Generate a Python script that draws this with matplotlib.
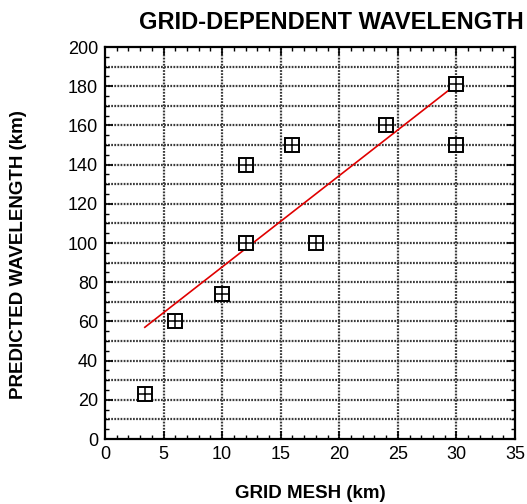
import matplotlib
matplotlib.use("Agg")
import matplotlib.pyplot as plt
from matplotlib.ticker import MultipleLocator

plt.rcParams["font.family"] = ["Liberation Sans", "DejaVu Sans"]

# Data
grid_mesh = [3.4, 6, 10, 12, 12, 16, 18, 24, 30, 30]
wavelength = [23, 60, 74, 100, 140, 150, 100, 160, 181, 150]

fit_x = [3.4, 30]
fit_y = [57, 181]

fig = plt.figure(figsize=(5.27, 5.04), dpi=100)
ax = fig.add_axes([105 / 527, 1 - 439 / 504, 410 / 527, 392 / 504])

ax.set_xlim(0, 35)
ax.set_ylim(0, 200)

ax.xaxis.set_major_locator(MultipleLocator(5))
ax.xaxis.set_minor_locator(MultipleLocator(1))
ax.yaxis.set_major_locator(MultipleLocator(20))
ax.yaxis.set_minor_locator(MultipleLocator(5))

# dotted grid: every 5 in x, every 10 in y
for gx in range(5, 35, 5):
    ax.axvline(gx, color="#3a3a3a", lw=1.6, ls=(0, (0.8, 0.6)), zorder=1)
for gy in range(10, 200, 10):
    ax.axhline(gy, color="#3a3a3a", lw=1.6, ls=(0, (0.8, 0.6)), zorder=1)

ax.tick_params(which="both", direction="in", top=True, right=True)
ax.tick_params(which="major", length=6, width=1.2, labelsize=13, pad=5)
ax.tick_params(which="minor", length=3, width=1.0)
for s in ax.spines.values():
    s.set_linewidth(1.6)

ax.plot(fit_x, fit_y, color="#e00000", lw=1.2, zorder=3)

ax.plot(grid_mesh, wavelength, ls="none", marker="s", ms=10.5, mfc="white",
        mec="black", mew=1.4, zorder=4)
ax.plot(grid_mesh, wavelength, ls="none", marker="+", ms=10.5, mec="black",
        mew=1.1, zorder=5)

ax.set_xlabel("GRID MESH (km)", fontsize=13.5, fontweight="bold")
ax.xaxis.set_label_coords(0.5, -0.14)
ax.xaxis.label.set_va("center")
ax.set_ylabel("PREDICTED WAVELENGTH (km)", fontsize=13.5, fontweight="bold")
ax.yaxis.set_label_coords(-0.212, 0.47)
ax.yaxis.label.set_va("center")
fig.text(0.628, 0.956, "GRID-DEPENDENT WAVELENGTH", fontsize=17,
         fontweight="bold", ha="center", va="center")

fig.savefig("out.png", dpi=100)
